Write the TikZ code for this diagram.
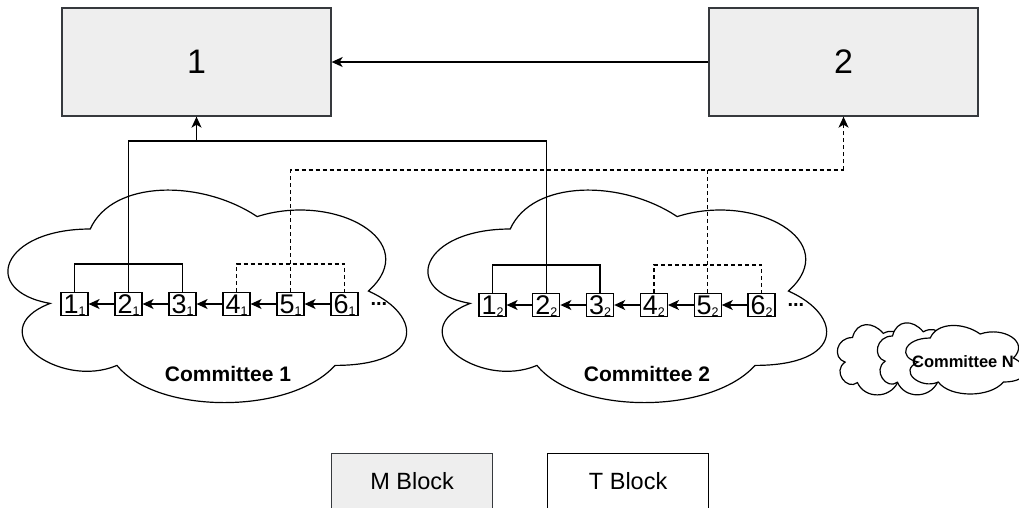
\documentclass[tikz,border=0pt]{standalone}
\usepackage{fontspec}
\setmainfont{Liberation Sans}
\usetikzlibrary{arrows.meta,positioning,calc}

\definecolor{mfill}{HTML}{EEEEEE}
\definecolor{mline}{HTML}{36393D}

% a cloud in a box of width w and height h, top left corner (x,y)
\newcommand\drawcloud[4]{%
  \def\cldx{#1}\def\cldy{#2}\def\cldw{#3}\def\cldh{#4}%
  \filldraw[cloudline]
    ({\cldx+0.25*\cldw},{\cldy+0.25*\cldh})
    .. controls ({\cldx+0.05*\cldw},{\cldy+0.25*\cldh}) and ({\cldx},{\cldy+0.5*\cldh}) .. ({\cldx+0.16*\cldw},{\cldy+0.55*\cldh})
    .. controls ({\cldx},{\cldy+0.66*\cldh}) and ({\cldx+0.18*\cldw},{\cldy+0.9*\cldh}) .. ({\cldx+0.31*\cldw},{\cldy+0.8*\cldh})
    .. controls ({\cldx+0.4*\cldw},{\cldy+\cldh}) and ({\cldx+0.7*\cldw},{\cldy+\cldh}) .. ({\cldx+0.8*\cldw},{\cldy+0.8*\cldh})
    .. controls ({\cldx+\cldw},{\cldy+0.8*\cldh}) and ({\cldx+\cldw},{\cldy+0.6*\cldh}) .. ({\cldx+0.875*\cldw},{\cldy+0.5*\cldh})
    .. controls ({\cldx+\cldw},{\cldy+0.3*\cldh}) and ({\cldx+0.8*\cldw},{\cldy+0.1*\cldh}) .. ({\cldx+0.625*\cldw},{\cldy+0.2*\cldh})
    .. controls ({\cldx+0.5*\cldw},{\cldy+0.05*\cldh}) and ({\cldx+0.3*\cldw},{\cldy+0.05*\cldh}) .. cycle;}

% block number with its committee index
\newcommand\blknum[2]{{\fontsize{27}{27}\selectfont #1}\raisebox{-2pt}{\fontsize{12.5}{12.5}\selectfont #2}}

\tikzset{
  cloudline/.style={draw=black, fill=white, line width=1.2pt},
  mblock/.style={draw=mline, fill=mfill, line width=1.3pt, minimum width=269pt, minimum height=108pt, font=\fontsize{34}{34}\selectfont},
  tblk/.style={draw=black, fill=white, line width=1.2pt, minimum width=27pt, minimum height=23pt, inner sep=0pt, text height=19.5pt, text depth=0.5pt},
  legbox/.style={line width=1.3pt, minimum width=161pt, minimum height=62pt, anchor=north west, font=\fontsize{23.5}{23.5}\selectfont, text depth=8pt},
  arr/.style={-{Stealth[length=11pt,width=10pt,inset=3pt]}},
  dashline/.style={dash pattern=on 4pt off 3pt},
  commlabel/.style={font=\bfseries\fontsize{21}{21}\selectfont},
}

\begin{document}
\begin{tikzpicture}[x=1pt,y=-1pt,line width=1.3pt]
\useasboundingbox (0,0) rectangle (1019,507);
\clip (0,0) rectangle (1019,507);

% Draw clouds
\drawcloud{-21}{167}{445}{248}
\drawcloud{399}{167}{445}{248}
\drawcloud{832}{317}{82}{82}
\drawcloud{872}{315}{82}{84}
\drawcloud{897}{318}{133}{80}
\node[commlabel] at (228,374) {Committee 1};
\node[commlabel] at (647,374) {Committee 2};
\node[font=\bfseries\fontsize{16.5}{16.5}\selectfont] at (963,362) {Committee N};

% M blocks
\node[mblock] (m1) at (196.5,62) {1};
\node[mblock] (m2) at (843.5,62) {2};
\draw[arr] (m2) -- (m1);

% T blocks of both committees
\foreach \i in {1,...,6} {
  \node[tblk] (a\i) at ({74.5+54*(\i-1)},304) {\blknum{\i}{1}};
  \node[tblk] (b\i) at ({492.5+53.8*(\i-1)},305) {\blknum{\i}{2}};
}
\foreach \i/\j in {1/2,2/3,3/4,4/5,5/6} {
  \draw[arr] (a\j) -- (a\i);
  \draw[arr] (b\j) -- (b\i);
}
\node[right=8pt of a6, font=\bfseries\fontsize{20}{20}\selectfont] (adots) {...};
\node[right=8pt of b6, font=\bfseries\fontsize{20}{20}\selectfont] (bdots) {...};

% solid links to M block 1
\coordinate (j1) at (196.5,141);
\draw (a1.north) -- ++(0,-28) -| (a3.north);
\draw (b1.north) -- ++(0,-28) -| (b3.north);
\draw (a2.north) |- (j1) -| (b2.north);
\draw[arr] (j1) -- (m1.south);

% dashed links to M block 2
\coordinate (j2) at (843.5,170);
\draw[dashline] (a4.north) -- ++(0,-28) -| (a6.north);
\draw[dashline] (b4.north) -- ++(0,-28) -| (b6.north);
\draw[dashline] (a5.north) |- (j2);
\draw[dashline] (b5.north) -- (b5.north |- j2);
\draw[dashline,arr] (j2) -- (m2.south);

% legend
\node[legbox, draw=mline, fill=mfill] (lm) at (331,453) {M Block};
\node[legbox, draw=black, fill=white] (lt) at (547,453) {T Block};
\end{tikzpicture}
\end{document}
